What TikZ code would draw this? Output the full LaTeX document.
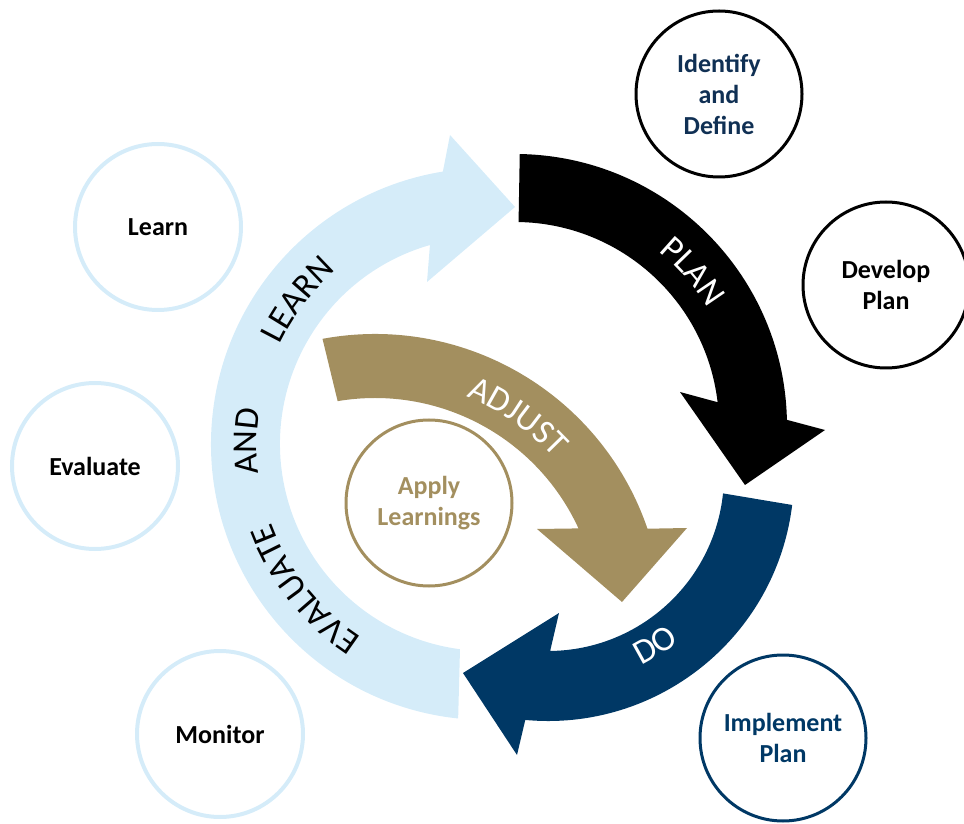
\documentclass[tikz,border=0pt]{standalone}
\usepackage{fontspec}
\setmainfont{Carlito}
\usetikzlibrary{calc,decorations.text}

\definecolor{ringblue}{RGB}{213,236,249}
\definecolor{navy}{RGB}{0,56,101}
\definecolor{gold}{RGB}{163,143,95}
\definecolor{labelnavy}{RGB}{16,48,84}
\newcommand{\ringfont}{\fontsize{35}{41}\selectfont}

\begin{document}
\begin{tikzpicture}[x=1pt,y=1pt,
  stage/.style={circle, minimum size=166pt, inner sep=0pt, line width=3pt,
    align=center, font=\fontsize{26}{31}\selectfont\bfseries},
  ringword/.style={decorate, decoration={text along path, text align=center,
    text={|\ringfont|#1}}},
]
\useasboundingbox (0,0) rectangle (964,823);

% centres of the four curved arrows
\coordinate (C1) at (487,379); % learn and evaluate
\coordinate (C2) at (515,397); % plan
\coordinate (C3) at (548,348); % do
\coordinate (C4) at (375,201); % adjust

% LEARN AND EVALUATE arrow (light blue)
\fill[ringblue] ($(C1)+(264:276)$) arc[start angle=264, end angle=99.2, radius=276]
  -- (450,688) -- (515,616) -- (427,541)
  -- ($(C1)+(106:207)$) arc[start angle=106, end angle=262.5, radius=207] -- cycle;

% PLAN arrow (black)
\fill[black] ($(C2)+(89:272)$) arc[start angle=89, end angle=1.3, radius=272]
  -- (825,393) -- (745,338) -- (680,431)
  -- ($(C2)+(6.7:204)$) arc[start angle=6.7, end angle=89, radius=204] -- cycle;

% DO arrow (navy)
\fill[navy] ($(C3)+(-7:246)$) arc[start angle=-7, end angle=-95.3, radius=246]
  -- (517,68) -- (463,150) -- (559,210)
  -- ($(C3)+(-89.3:176)$) arc[start angle=-89.3, end angle=-6, radius=176] -- cycle;

% ADJUST arrow (gold)
\fill[gold] ($(C4)+(100.5:288)$) arc[start angle=100.5, end angle=18.9, radius=288]
  -- (687,295) -- (622,221) -- (537,294)
  -- ($(C4)+(24.7:224)$) arc[start angle=24.7, end angle=99.6, radius=224] -- cycle;

% words along the arrows
\path[ringword=EVALUATE] ($(C1)+(250:230)$) arc[start angle=250, end angle=187, radius=230];
\path[ringword=AND] ($(C1)+(204:230)$) arc[start angle=204, end angle=154.6, radius=230];
\path[ringword=LEARN] ($(C1)+(168:230)$) arc[start angle=168, end angle=117.2, radius=230];
\path[ringword=PLAN, decoration={text color=white}] ($(C2)+(71:226)$) arc[start angle=71, end angle=11, radius=226];
\path[ringword=ADJUST, decoration={text color=white}] ($(C4)+(85:243)$) arc[start angle=85, end angle=25.4, radius=243];
\path[ringword=DO, decoration={text color=white}] ($(C3)+(-85:212)$) arc[start angle=-85, end angle=-30.6, radius=212];

% stage circles
\node[stage, draw=black, text=labelnavy] (identify) at (719,729) {Identify\\and\\Define};
\node[stage, draw=black, text=black] (develop) at (886,538) {Develop\\Plan};
\node[stage, draw=navy, text=navy] (implement) at (783,85) {Implement\\Plan};
\node[stage, draw=ringblue, line width=4pt, text=black] (learn) at (158,596) {Learn};
\node[stage, draw=ringblue, line width=4pt, text=black] (evaluate) at (95,357) {Evaluate};
\node[stage, draw=ringblue, line width=4pt, text=black] (monitor) at (220,89) {Monitor};
\node[stage, draw=gold, text=gold] (apply) at (429,320) {Apply\\Learnings};
\end{tikzpicture}
\end{document}
